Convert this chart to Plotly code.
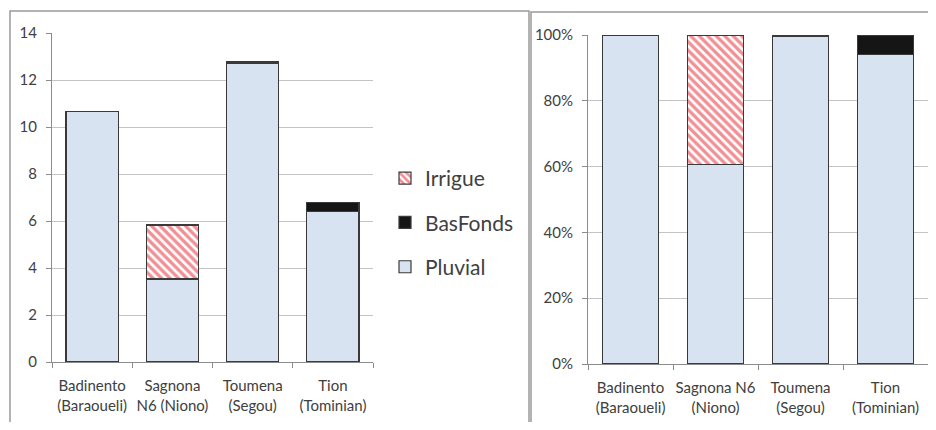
import plotly.graph_objects as go

# target canvas 936x430; page body has 8px margin, so figure is 920x414
W, H = 920, 414
OFF = 8

sites_left = ["Badinento<br>(Baraoueli)", "Sagnona<br>N6 (Niono)", "Toumena<br>(Segou)", "Tion<br>(Tominian)"]
sites_right = ["Badinento<br>(Baraoueli)", "Sagnona N6<br>(Niono)", "Toumena<br>(Segou)", "Tion<br>(Tominian)"]
pluvial = [10.65, 3.53, 12.70, 6.40]
basfonds = [0.0, 0.0, 0.07, 0.40]
irrigue = [0.0, 2.30, 0.0, 0.0]
y_ticks_left = [0, 2, 4, 6, 8, 10, 12, 14]
y_ticks_right = [0, 20, 40, 60, 80, 100]

totals = [p + b + i for p, b, i in zip(pluvial, basfonds, irrigue)]
pct = lambda vals: [v / t * 100 for v, t in zip(vals, totals)]

def px(x):
    return min(1.0, max(0.0, (x - OFF) / W))

def py(y):
    return min(1.0, max(0.0, 1 - (y - OFF) / H))

def sx(x):
    return (x - OFF) / W

def sy(y):
    return 1 - (y - OFF) / H

FONT = "Lato"
TXT = "#404040"
OUT = dict(color="#3a3a3a", width=1.2)

series = [
    ("Pluvial", pluvial, dict(color="#d8e3f1", line=OUT), 3),
    ("BasFonds", basfonds, dict(color="#151515", line=OUT), 2),
    ("Irrigue", irrigue, dict(color="white", line=OUT,
                              pattern=dict(shape="\\", fgcolor="#e3222a", bgcolor="white",
                                           size=6, solidity=0.55)), 1),
]

fig = go.Figure()
for name, vals, marker, rank in series:
    fig.add_trace(go.Bar(x=sites_left, y=vals, name=name, marker=marker, legendrank=rank,
                         legendgroup=name, showlegend=True, xaxis="x", yaxis="y"))
for name, vals, marker, rank in series:
    fig.add_trace(go.Bar(x=sites_right, y=pct(vals), name=name, marker=marker, legendrank=rank,
                         legendgroup=name, showlegend=False, xaxis="x2", yaxis="y2"))

axis_common = dict(showline=True, linecolor="#8c8c8c", linewidth=1, automargin=False)
xfont = dict(family=FONT, size=15, color=TXT)
yfont = dict(family=FONT, size=15, color=TXT)

fig.update_layout(
    width=W, height=H,
    margin=dict(l=0, r=0, t=0, b=0, autoexpand=False),
    paper_bgcolor="white", plot_bgcolor="white",
    barmode="stack", bargap=0.35,
    font=dict(family=FONT, color=TXT),
    xaxis=dict(domain=[px(52), px(373)], anchor="y", showgrid=False, ticks="outside",
               tickson="boundaries", ticklen=5, tickcolor="#8c8c8c", tickfont=xfont,
               tickangle=0, ticklabelstandoff=10, **axis_common),
    yaxis=dict(domain=[py(362), py(33)], anchor="x", range=[0, 14], tickvals=y_ticks_left,
               showgrid=True, gridcolor="#c4c4c4", gridwidth=1, ticks="outside",
               ticklen=5, tickcolor="#8c8c8c", zeroline=False, tickfont=yfont,
               ticklabelstandoff=6, **axis_common),
    xaxis2=dict(domain=[px(588), px(928)], anchor="y2", showgrid=False, ticks="outside",
                tickson="boundaries", ticklen=5, tickcolor="#8c8c8c", tickfont=xfont,
                tickangle=0, ticklabelstandoff=10, **axis_common),
    yaxis2=dict(domain=[py(364), py(35)], anchor="x2", range=[0, 100], tickvals=y_ticks_right,
                ticktext=[f"{v}%" for v in y_ticks_right], showgrid=True, gridcolor="#c4c4c4",
                gridwidth=1, ticks="outside", ticklen=5, tickcolor="#8c8c8c", zeroline=False,
                tickfont=yfont, ticklabelstandoff=6, **axis_common),
    legend=dict(x=px(385), y=py(158), xanchor="left", yanchor="top",
                traceorder="grouped", tracegroupgap=14,
                font=dict(family=FONT, size=21, color=TXT),
                bgcolor="rgba(0,0,0,0)", itemwidth=30),
    shapes=[
        dict(type="rect", xref="paper", yref="paper", x0=sx(10), x1=sx(529), y0=sy(440), y1=sy(11),
             line=dict(color="#9a9a9a", width=1.5), fillcolor="rgba(0,0,0,0)", layer="below"),
        dict(type="rect", xref="paper", yref="paper", x0=sx(531), x1=sx(950), y0=sy(440), y1=sy(12),
             line=dict(color="#9a9a9a", width=1.5), fillcolor="rgba(0,0,0,0)", layer="below"),
    ],
)

fig.write_html("out.html")
